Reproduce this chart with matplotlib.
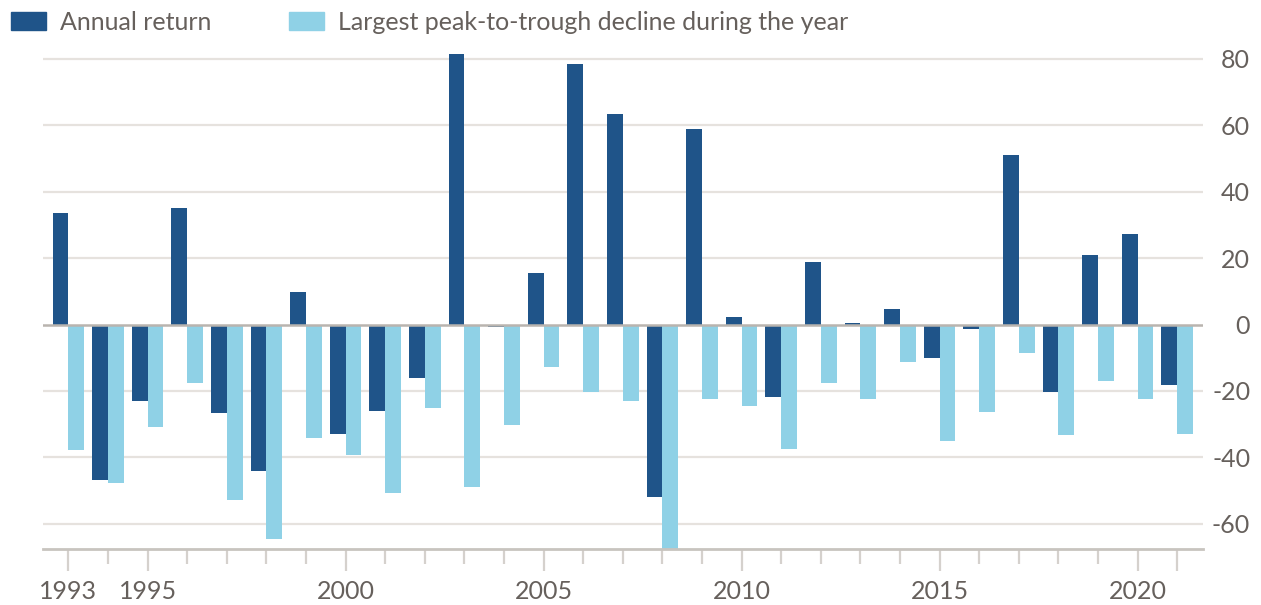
import numpy as np
import matplotlib.pyplot as plt
from matplotlib.patches import Patch

# values (per cent)
years = np.arange(1993, 2022)
annual_return = [33.7, -46.8, -22.9, 35.2, -26.6, -44.0, 9.9, -33.0, -26.0, -16.2,
                 81.4, -0.7, 15.4, 78.4, 63.3, -52.0, 58.9, 2.4, -21.7, 18.9,
                 0.5, 4.6, -10.0, -1.4, 51.1, -20.4, 20.9, 27.3, -18.2]
largest_decline = [-37.8, -47.6, -30.8, -17.5, -52.9, -64.7, -34.1, -39.2, -50.7, -25.1,
                   -48.8, -30.4, -12.7, -20.2, -22.9, -68.0, -22.3, -24.5, -37.4, -17.5,
                   -22.3, -11.2, -35.0, -26.4, -8.5, -33.3, -16.9, -22.4, -33.1]
major_years = [1993, 1995, 2000, 2005, 2010, 2015, 2020, 2021]
major_labels = ["1993", "1995", "2000", "2005", "2010", "2015", "2020", ""]
y_ticks = [-60, -40, -20, 0, 20, 40, 60, 80]

DARK = "#1f5489"
LIGHT = "#8fd1e6"
TEXT = "#66605c"
GRID = "#e6e2de"

plt.rcParams["font.family"] = ["Lato", "DejaVu Sans"]
plt.rcParams["axes.unicode_minus"] = False

fig = plt.figure(figsize=(12.61, 6.05), dpi=100)
ax = fig.add_axes([43 / 1261, 1 - 549 / 605, 1160 / 1261, 503.4 / 605])

w = 0.4
ax.bar(years - w / 2, annual_return, width=w, color=DARK, zorder=3)
ax.bar(years + w / 2, largest_decline, width=w, color=LIGHT, zorder=3)

ax.set_xlim(1992.36, 2021.65)
ax.set_ylim(-67.6, 84)

for v in y_ticks:
    if v == 0:
        continue
    ax.axhline(v, color=GRID, lw=1.6, zorder=1)
ax.axhline(0, color="#b9b4af", lw=1.8, zorder=4)

for s in ["top", "left", "right"]:
    ax.spines[s].set_visible(False)
ax.spines["bottom"].set_color("#c8c4bf")
ax.spines["bottom"].set_linewidth(2)
ax.spines["bottom"].set_zorder(5)

ax.set_xticks(major_years)
ax.set_xticklabels(major_labels)
ax.set_xticks([y for y in years if y not in major_years], minor=True)
ax.tick_params(axis="x", which="major", length=16, width=1.6, color="#d5d1cd",
               labelsize=18, labelcolor=TEXT, pad=6)
ax.tick_params(axis="x", which="minor", length=11, width=1.6, color="#d5d1cd")

ax.yaxis.tick_right()
ax.set_yticks(y_ticks)
ax.tick_params(axis="y", length=0, labelsize=18, labelcolor=TEXT, pad=34)
for lbl in ax.get_yticklabels():
    lbl.set_horizontalalignment("right")

handles = [Patch(color=DARK, label="Annual return"),
           Patch(color=LIGHT, label="Largest peak-to-trough decline during the year")]
fig.legend(handles=handles, loc="upper left", bbox_to_anchor=(11 / 1261, 1 - 11 / 605),
           ncol=2, frameon=False, fontsize=18, labelcolor=TEXT,
           handlelength=1.4, handleheight=0.72, handletextpad=0.56,
           columnspacing=3.1, borderpad=0, borderaxespad=0)

fig.savefig("out.png", dpi=100)
